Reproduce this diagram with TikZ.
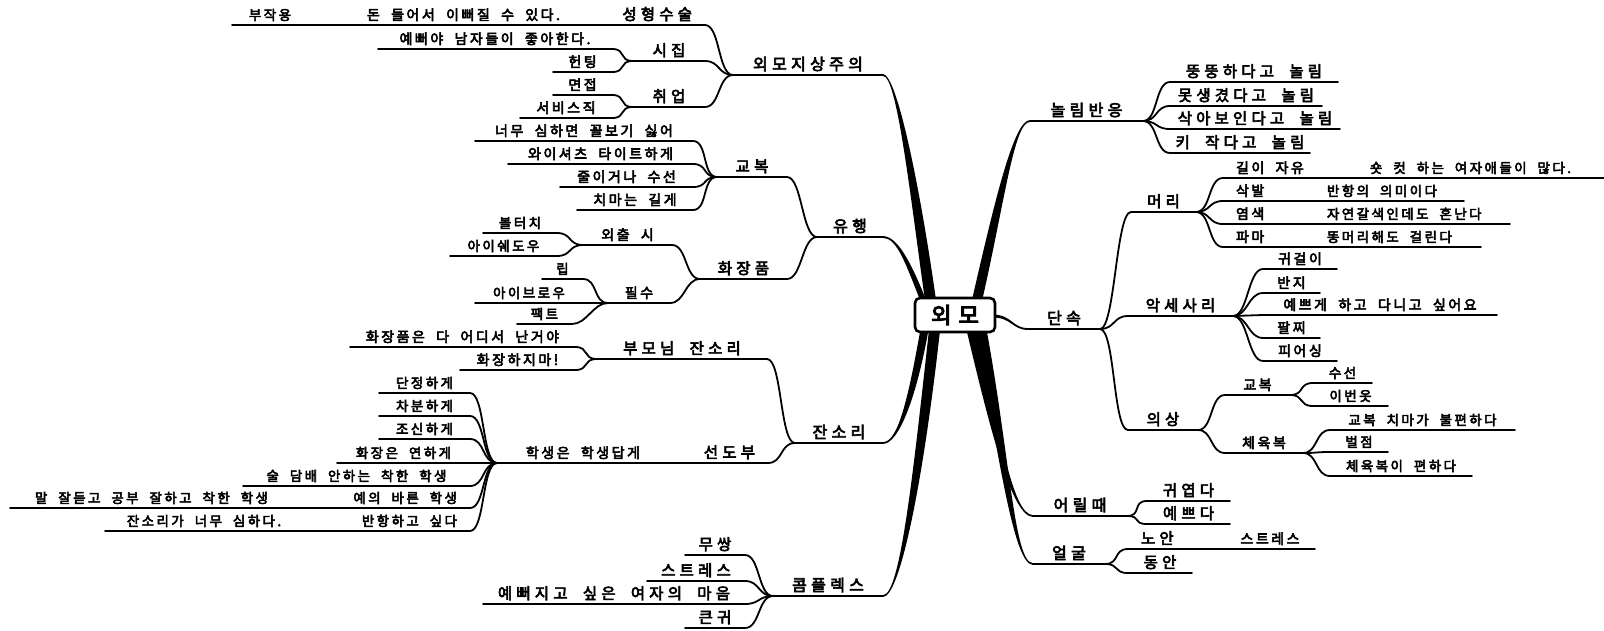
\documentclass[tikz,border=0pt]{standalone}
\usepackage{fontspec}
\usetikzlibrary{calc}
\newfontfamily\krwide{Noto Sans CJK KR}[LetterSpace=27,WordSpace=2,FakeBold=4]
\newfontfamily\krnarrow{Noto Sans CJK KR}[LetterSpace=18,WordSpace=2,FakeBold=4]
\newfontfamily\krroot{Noto Sans CJK KR}[LetterSpace=10,FakeBold=5]
\pgfdeclarelayer{paper}
\pgfdeclarelayer{bg}
\pgfsetlayers{paper,bg,main}

% one topic: name, left end, right end, underline y, level style, text alignment, text
\newcommand\mmtopic[7]{%
  \pgfmathsetmacro\mmwd{#3-#2-26}%
  \node[mmnode,#5] (#1) at (#2,#4) {\makebox[\mmwd pt][#6]{#7}};%
  \draw[uline] (#1.south west) -- (#1.south east);}
% branch from a parent to a child on its left / right
\newcommand\jl[2]{\draw[conn] (#1.south west) .. controls +(-15,0) and +(15,0) .. (#2.south east);}
\newcommand\jr[2]{\draw[conn] (#1.south east) .. controls +(15,0) and +(-15,0) .. (#2.south west);}
% tapered main branch: start, control 1, control 2, end, half width at start, half width at end
\newcommand\taper[6]{%
  \path #1 coordinate (tpA) #2 coordinate (tpB) #3 coordinate (tpC) #4 coordinate (tpD);
  \fill ($(tpA)!#5!90:(tpB)$) .. controls ($(tpB)!#5!-90:(tpA)$) and ($(tpC)!#6!90:(tpD)$) .. ($(tpD)!#6!-90:(tpC)$)
    -- ($(tpD)!#6!90:(tpC)$) .. controls ($(tpC)!#6!-90:(tpD)$) and ($(tpB)!#5!90:(tpA)$) .. ($(tpA)!#5!-90:(tpB)$) -- cycle;}

\begin{document}
\begin{tikzpicture}[x=1pt,y=-1pt,
  mmnode/.style={inner xsep=13pt, inner ysep=5pt, outer sep=0pt, text depth=0pt, anchor=south west},
  lv1/.style={font=\krwide\fontsize{16}{18}\selectfont},
  lv2/.style={font=\krwide\fontsize{15.5}{17}\selectfont},
  lv3/.style={font=\krnarrow\fontsize{14}{16}\selectfont},
  lv4/.style={font=\krnarrow\fontsize{13.5}{16}\selectfont},
  uline/.style={line width=1.8pt, line cap=round},
  conn/.style={line width=1.8pt, line cap=round},
  rootbox/.style={draw, fill=white, line width=2.6pt, rounded corners=5pt,
    minimum width=80pt, minimum height=34pt, inner sep=0pt,
    font=\krroot\fontsize{22}{24}\selectfont}]
\begin{pgfonlayer}{paper}
\fill[white] (0,0) rectangle (1604,630);
\end{pgfonlayer}
\useasboundingbox (0,0) rectangle (1604,630);

\node[rootbox] (root) at (955,315) {외 모};

% ---------- left half ----------
\mmtopic{wm}{733}{883}{75}{lv1}{c}{외모지상주의}
\mmtopic{sh}{573}{705}{25}{lv2}{r}{성형수술}
\mmtopic{don}{308}{573}{25}{lv3}{r}{돈 들어서 이뻐질 수 있다.}
\mmtopic{bj}{232}{308}{25}{lv4}{c}{부작용}
\mmtopic{sj}{633}{705}{61}{lv2}{c}{시집}
\mmtopic{yp}{378}{612}{49}{lv3}{c}{예뻐야 남자들이 좋아한다.}
\mmtopic{ht}{553}{612}{72}{lv3}{c}{헌팅}
\mmtopic{cu}{633}{705}{107}{lv2}{c}{취업}
\mmtopic{mj}{553}{612}{95}{lv3}{c}{면접}
\mmtopic{sv}{520}{612}{118}{lv3}{c}{서비스직}
\jl{wm}{sh}\jl{sh}{don}\jl{don}{bj}
\jl{wm}{sj}\jl{sj}{yp}\jl{sj}{ht}
\jl{wm}{cu}\jl{cu}{mj}\jl{cu}{sv}

\mmtopic{yh}{817}{883}{237}{lv1}{c}{유행}
\mmtopic{gb}{717}{787}{177}{lv2}{c}{교복}
\mmtopic{g1}{475}{693}{141}{lv3}{c}{너무 심하면 꼴보기 싫어}
\mmtopic{g2}{508}{693}{164}{lv3}{c}{와이셔츠 타이트하게}
\mmtopic{g3}{560}{693}{187}{lv3}{c}{줄이거나 수선}
\mmtopic{g4}{577}{693}{210}{lv3}{c}{치마는 길게}
\mmtopic{hj}{700}{787}{279}{lv2}{c}{화장품}
\mmtopic{oc}{583}{672}{245}{lv3}{c}{외출 시}
\mmtopic{bt}{483}{557}{233}{lv4}{c}{볼터치}
\mmtopic{ie}{450}{557}{256}{lv4}{c}{아이쉐도우}
\mmtopic{ps}{608}{670}{303}{lv3}{c}{필수}
\mmtopic{lip}{542}{583}{279}{lv4}{c}{립}
\mmtopic{ib}{475}{583}{303}{lv4}{c}{아이브로우}
\mmtopic{pt}{517}{572}{324}{lv4}{c}{팩트}
\jl{yh}{gb}\jl{gb}{g1}\jl{gb}{g2}\jl{gb}{g3}\jl{gb}{g4}
\jl{yh}{hj}\jl{hj}{oc}\jl{oc}{bt}\jl{oc}{ie}
\jl{hj}{ps}\jl{ps}{lip}\jl{ps}{ib}\jl{ps}{pt}

\mmtopic{js}{795}{883}{443}{lv1}{c}{잔소리}
\mmtopic{bm}{597}{767}{359}{lv2}{c}{부모님 잔소리}
\mmtopic{b1}{350}{575}{347}{lv3}{c}{화장품은 다 어디서 난거야}
\mmtopic{b2}{460}{575}{370}{lv3}{c}{화장하지마!}
\mmtopic{sd}{653}{768}{463}{lv2}{r}{선도부}
\mmtopic{hs}{497}{653}{463}{lv3}{r}{학생은 학생답게}
\mmtopic{s1}{379}{470}{393}{lv4}{c}{단정하게}
\mmtopic{s2}{379}{470}{416}{lv4}{c}{차분하게}
\mmtopic{s3}{379}{470}{439}{lv4}{c}{조신하게}
\mmtopic{s4}{337}{470}{463}{lv4}{c}{화장은 연하게}
\mmtopic{s5}{243}{470}{486}{lv4}{c}{술 담배 안하는 착한 학생}
\mmtopic{s6}{293}{470}{508}{lv4}{r}{예의 바른 학생}
\mmtopic{s6a}{10}{293}{508}{lv4}{c}{말 잘듣고 공부 잘하고 착한 학생}
\mmtopic{s7}{303}{470}{531}{lv4}{r}{반항하고 싶다}
\mmtopic{s7a}{105}{303}{531}{lv4}{c}{잔소리가 너무 심하다.}
\jl{js}{bm}\jl{bm}{b1}\jl{bm}{b2}
\jl{js}{sd}\jl{sd}{hs}
\jl{hs}{s1}\jl{hs}{s2}\jl{hs}{s3}\jl{hs}{s4}\jl{hs}{s5}\jl{hs}{s6}\jl{hs}{s7}
\jl{s6}{s6a}\jl{s7}{s7a}

\mmtopic{cp}{773}{883}{596}{lv1}{c}{콤플렉스}
\mmtopic{c1}{685}{745}{555}{lv2}{c}{무쌍}
\mmtopic{c2}{647}{745}{581}{lv2}{c}{스트레스}
\mmtopic{c3}{483}{745}{604}{lv2}{c}{예뻐지고 싶은 여자의 마음}
\mmtopic{c4}{685}{745}{628}{lv2}{c}{큰귀}
\jl{cp}{c1}\jl{cp}{c2}\jl{cp}{c3}\jl{cp}{c4}

% ---------- right half ----------
\mmtopic{nr}{1030}{1143}{121}{lv1}{c}{놀림반응}
\mmtopic{n1}{1170}{1338}{82}{lv2}{c}{뚱뚱하다고 놀림}
\mmtopic{n2}{1170}{1322}{106}{lv2}{c}{못생겼다고 놀림}
\mmtopic{n3}{1170}{1340}{129}{lv2}{c}{삭아보인다고 놀림}
\mmtopic{n4}{1170}{1310}{153}{lv2}{c}{키 작다고 놀림}
\jr{nr}{n1}\jr{nr}{n2}\jr{nr}{n3}\jr{nr}{n4}

\mmtopic{ds}{1028}{1100}{329}{lv1}{c}{단속}
\mmtopic{mr}{1131}{1196}{212}{lv2}{c}{머리}
\mmtopic{m1}{1223}{1357}{178}{lv3}{l}{길이 자유}
\mmtopic{m1a}{1357}{1604}{178}{lv4}{l}{숏 컷 하는 여자애들이 많다.}
\mmtopic{m2}{1223}{1314}{201}{lv3}{l}{삭발}
\mmtopic{m2a}{1314}{1464}{201}{lv4}{l}{반항의 의미이다}
\mmtopic{m3}{1223}{1314}{224}{lv3}{l}{염색}
\mmtopic{m3a}{1314}{1510}{224}{lv4}{l}{자연갈색인데도 혼난다}
\mmtopic{m4}{1223}{1314}{247}{lv3}{l}{파마}
\mmtopic{m4a}{1314}{1481}{247}{lv4}{l}{똥머리해도 걸린다}
\mmtopic{ac}{1128}{1233}{316}{lv2}{c}{악세사리}
\mmtopic{a1}{1263}{1337}{269}{lv3}{c}{귀걸이}
\mmtopic{a2}{1263}{1320}{293}{lv3}{c}{반지}
\mmtopic{a3}{1263}{1497}{315}{lv3}{c}{예쁘게 하고 다니고 싶어요}
\mmtopic{a4}{1263}{1320}{338}{lv3}{c}{팔찌}
\mmtopic{a5}{1263}{1337}{361}{lv3}{c}{피어싱}
\mmtopic{ui}{1128}{1198}{430}{lv2}{c}{의상}
\mmtopic{ug}{1225}{1290}{395}{lv3}{c}{교복}
\mmtopic{u1}{1313}{1372}{383}{lv4}{c}{수선}
\mmtopic{u2}{1313}{1388}{406}{lv4}{c}{이번옷}
\mmtopic{uc}{1225}{1303}{453}{lv3}{c}{체육복}
\mmtopic{u3}{1330}{1515}{430}{lv4}{c}{교복 치마가 불편하다}
\mmtopic{u4}{1330}{1388}{452}{lv4}{c}{벌점}
\mmtopic{u5}{1330}{1472}{476}{lv4}{c}{체육복이 편하다}
\jr{ds}{mr}\jr{mr}{m1}\jr{mr}{m2}\jr{mr}{m3}\jr{mr}{m4}
\jr{m1}{m1a}\jr{m2}{m2a}\jr{m3}{m3a}\jr{m4}{m4a}
\jr{ds}{ac}\jr{ac}{a1}\jr{ac}{a2}\jr{ac}{a3}\jr{ac}{a4}\jr{ac}{a5}
\jr{ds}{ui}\jr{ui}{ug}\jr{ug}{u1}\jr{ug}{u2}
\jr{ui}{uc}\jr{uc}{u3}\jr{uc}{u4}\jr{uc}{u5}

\mmtopic{er}{1033}{1127}{516}{lv1}{c}{어릴때}
\mmtopic{e1}{1147}{1230}{501}{lv2}{c}{귀엽다}
\mmtopic{e2}{1147}{1230}{524}{lv2}{c}{예쁘다}
\jr{er}{e1}\jr{er}{e2}
\mmtopic{og}{1033}{1105}{564}{lv1}{c}{얼굴}
\mmtopic{o1}{1128}{1225}{549}{lv2}{l}{노안}
\mmtopic{o1a}{1225}{1315}{549}{lv3}{c}{스트레스}
\mmtopic{o2}{1128}{1192}{573}{lv2}{c}{동안}
\jr{og}{o1}\jr{o1}{o1a}\jr{og}{o2}

% ---------- thick main branches from the centre ----------
\begin{pgfonlayer}{bg}
\taper{($(root.north west)+(17,5)$)}{(915,190)}{(897,75)}{(wm.south east)}{5.5pt}{0.9pt}
\taper{($(root.north west)+(10,5)$)}{(908,262)}{(897,237)}{(yh.south east)}{2.8pt}{0.9pt}
\taper{($(root.north west)+(63,5)$)}{(1000,200)}{(1014,121)}{(nr.south west)}{5pt}{0.9pt}
\taper{($(root.east)+(-4,1)$)}{(1012,316)}{(1012,329)}{(ds.south west)}{1.5pt}{0.9pt}
\taper{($(root.south west)+(11,-5)$)}{(912,400)}{(898,443)}{(js.south east)}{4pt}{0.9pt}
\taper{($(root.south west)+(21,-5)$)}{(918,480)}{(900,596)}{(cp.south east)}{5.5pt}{0.9pt}
\taper{($(root.south west)+(57,-5)$)}{(995,430)}{(1012,516)}{(er.south west)}{4.5pt}{0.9pt}
\taper{($(root.south west)+(67,-5)$)}{(1005,460)}{(1014,564)}{(og.south west)}{5.5pt}{0.9pt}
\end{pgfonlayer}
\end{tikzpicture}
\end{document}
